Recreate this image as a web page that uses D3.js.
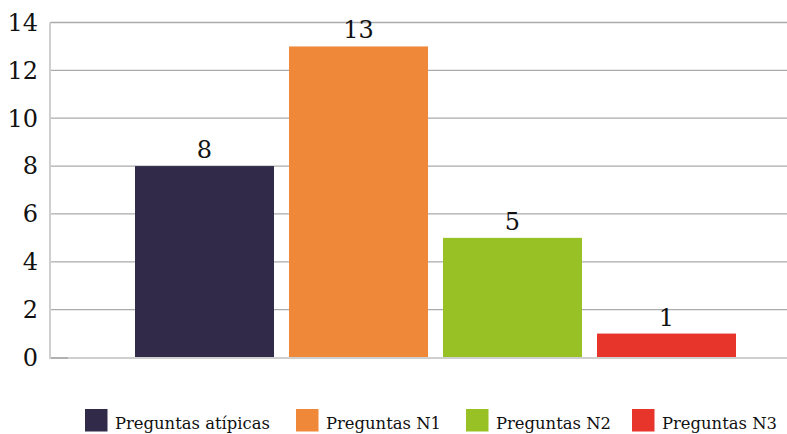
<!DOCTYPE html>
<html><head><meta charset="utf-8">
<script src="https://cdn.jsdelivr.net/npm/d3@7"></script>
<style>body{margin:0;background:#fff}svg{display:block}</style>
</head><body>
<script>
const series = ["Preguntas atípicas","Preguntas N1","Preguntas N2","Preguntas N3"];
const values = [8, 13, 5, 1];
const colors = ["#312a48","#f0883a","#97c125","#e8352c"];
const yTicks = [0,2,4,6,8,10,12,14];

const W = 787, H = 434;
const font = "'DejaVu Serif'";
const svg = d3.select("body").append("svg").attr("width",W).attr("height",H);

const y = d3.scaleLinear().domain([0,14]).range([357.5,22.5]);
const x = d3.scaleBand().domain(series).range([50,821]).paddingInner(0.0974).paddingOuter(0.552);

// gridlines
svg.append("g").selectAll("line").data(yTicks.filter(d=>d>0)).join("line")
  .attr("x1",50).attr("x2",W).attr("y1",d=>y(d)).attr("y2",d=>y(d))
  .attr("stroke","#ababab").attr("stroke-width",1.3);

// bars
svg.append("g").selectAll("rect").data(series).join("rect")
  .attr("x",d=>x(d)).attr("width",x.bandwidth())
  .attr("y",(d,i)=>y(values[i])).attr("height",(d,i)=>y(0)-y(values[i]))
  .attr("fill",(d,i)=>colors[i]);

// axes lines
svg.append("line").attr("x1",W).attr("x2",50).attr("y1",y(0)+0.5).attr("y2",y(0)+0.5)
  .attr("stroke","#cfcfcf").attr("stroke-width",2);
svg.append("line").attr("x1",50).attr("x2",68).attr("y1",y(0)+0.5).attr("y2",y(0)+0.5)
  .attr("stroke","#b0b0b0").attr("stroke-width",2);
svg.append("line").attr("x1",50).attr("x2",50).attr("y1",y(14)).attr("y2",y(0)+1.5)
  .attr("stroke","#cfcfcf").attr("stroke-width",2);

// y tick labels
svg.append("g").selectAll("text").data(yTicks).join("text")
  .attr("x",38).attr("y",d=>y(d)).attr("dy","0.35em").attr("text-anchor","end")
  .style("font-family",font).attr("font-size",24).attr("fill","#111")
  .text(d=>d);

// value labels
svg.append("g").selectAll("text").data(series).join("text")
  .attr("x",d=>x(d)+x.bandwidth()/2).attr("y",(d,i)=>y(values[i])-8)
  .attr("text-anchor","middle")
  .style("font-family",font).attr("font-size",24).attr("fill","#111")
  .text((d,i)=>values[i]);

// legend
const legX = [85,296,466,632];
const lg = svg.append("g").selectAll("g").data(series).join("g")
  .attr("transform",(d,i)=>`translate(${legX[i]},409)`);
lg.append("rect").attr("width",22.5).attr("height",22.5).attr("fill",(d,i)=>colors[i]);
lg.append("text").attr("x",30).attr("y",20).style("font-family",font).attr("font-size",16.4)
  .attr("fill","#111").text(d=>d);
</script>
</body></html>
